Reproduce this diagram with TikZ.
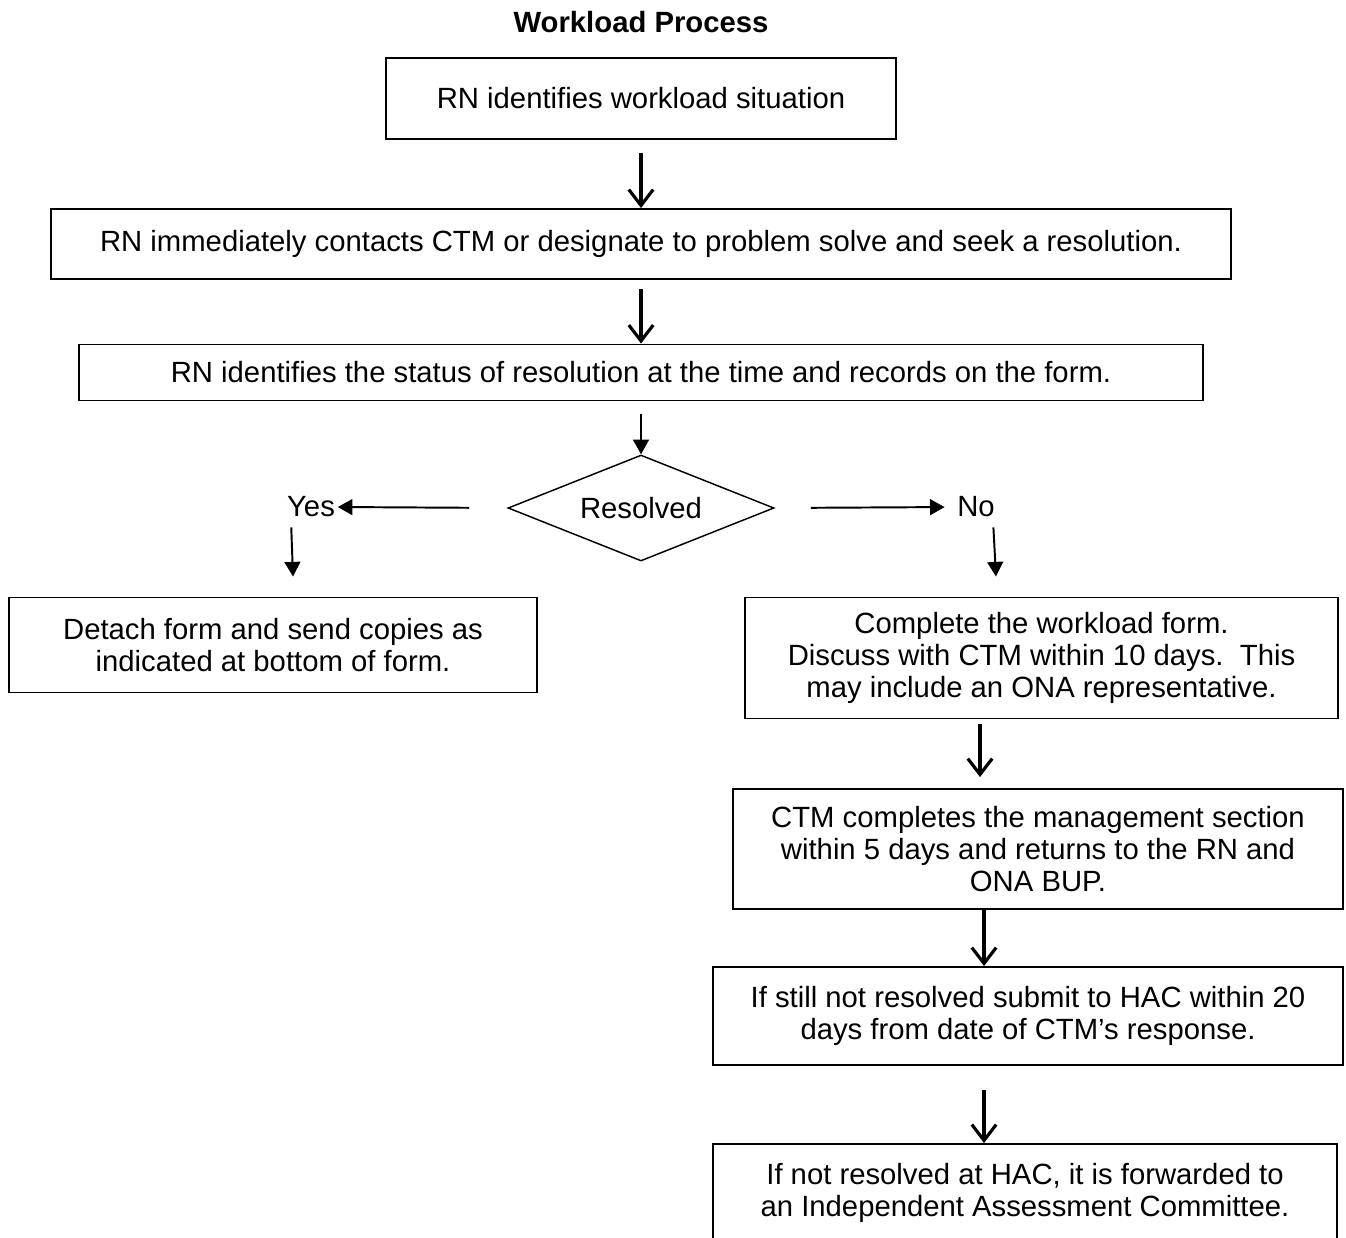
\documentclass[tikz,border=0pt]{standalone}
\usepackage{fontspec}
\setmainfont{Liberation Sans}
\usetikzlibrary{shapes.geometric, arrows.meta, positioning}
\newlength{\pxu}
\setlength{\pxu}{0.41pt}
\tikzstyle{every node}=[font=\fontsize{12}{13.2}\selectfont]
\tikzstyle{block}=[draw,rectangle,line width=0.8pt,align=center,inner sep=0pt]
\tikzstyle{decision}=[draw,diamond,aspect=2.5,line width=0.6pt,inner sep=0pt,minimum width=266*\pxu,minimum height=106*\pxu]
\tikzstyle{flow}=[line width=1.3pt,-{Straight Barb[length=6.5pt,width=10pt]}]
\tikzstyle{branch}=[line width=0.8pt,-{Triangle[length=6pt,width=6.5pt]}]

\begin{document}
\begin{tikzpicture}[x=\pxu,y=-\pxu]
  \clip (0,0) rectangle (1346,1237);
  \node[font=\bfseries\fontsize{12}{13.2}\selectfont] (title) at (641,22) {Workload Process};
  \node[block, minimum width=510*\pxu, minimum height=81*\pxu] (situation) at (641,98.5) {RN identifies workload situation};
  \node[block, minimum width=1180*\pxu, minimum height=70*\pxu] (contact) at (641,244) {RN immediately contacts CTM or designate to problem solve and seek a resolution.};
  \node[block, minimum width=1124*\pxu, minimum height=56*\pxu] (status) at (641,372.5) {RN identifies the status of resolution at the time and records on the form.};
  \node[decision] (resolved) at (641,508) {Resolved};
  \node[inner sep=1pt] (yes) at (311,507) {Yes};
  \node[inner sep=1pt] (no) at (976,507) {No};
  \node[block, minimum width=528*\pxu, minimum height=95*\pxu] (detach) at (273,645) {Detach form and send copies as\\indicated at bottom of form.};
  \node[block, minimum width=593*\pxu, minimum height=121*\pxu] (complete) at (1041.5,658) {Complete the workload form.\\Discuss with CTM within 10 days.\ \ This\\may include an ONA representative.};
  \node[block, minimum width=610*\pxu, minimum height=120*\pxu] (ctm) at (1038,849) {CTM completes the management section\\within 5 days and returns to the RN and\\ONA BUP.};
  \node[block, minimum width=630*\pxu, minimum height=98*\pxu] (hac) at (1028,1016) {If still not resolved submit to HAC within 20\\days from date of CTM's response.};
  \node[block, anchor=north, minimum width=624*\pxu, inner ysep=8pt, text depth=40pt] (iac) at (1025,1143) {If not resolved at HAC, it is forwarded to\\an Independent Assessment Committee.};

  \draw[flow, shorten <=5.3pt] (situation) -- (contact);
  \draw[flow, shorten <=3.7pt] (contact) -- (status);
  \draw[branch, shorten <=5.3pt] (status) -- (resolved);
  \draw[branch, shorten <=15.6pt] (resolved.west) -- (yes.east);
  \draw[branch, shorten <=14.8pt, shorten >=4pt] (resolved.east) -- (no.west);
  \draw[branch, shorten <=3pt] ([xshift=-20*\pxu]yes.south) -- ([xshift=20*\pxu, yshift=20*\pxu]detach.north);
  \draw[branch, shorten <=3pt] ([xshift=17*\pxu]no.south) -- ([xshift=-45.5*\pxu, yshift=20*\pxu]complete.north);
  \draw[flow, shorten <=2pt, shorten >=4.5pt] ([xshift=-61.5*\pxu]complete.south) -- ([xshift=-58*\pxu]ctm.north);
  \draw[flow] ([xshift=-54*\pxu]ctm.south) -- ([xshift=-44*\pxu]hac.north);
  \draw[flow, shorten <=10pt] ([xshift=-44*\pxu]hac.south) -- ([xshift=-41*\pxu]iac.north);
\end{tikzpicture}
\end{document}
